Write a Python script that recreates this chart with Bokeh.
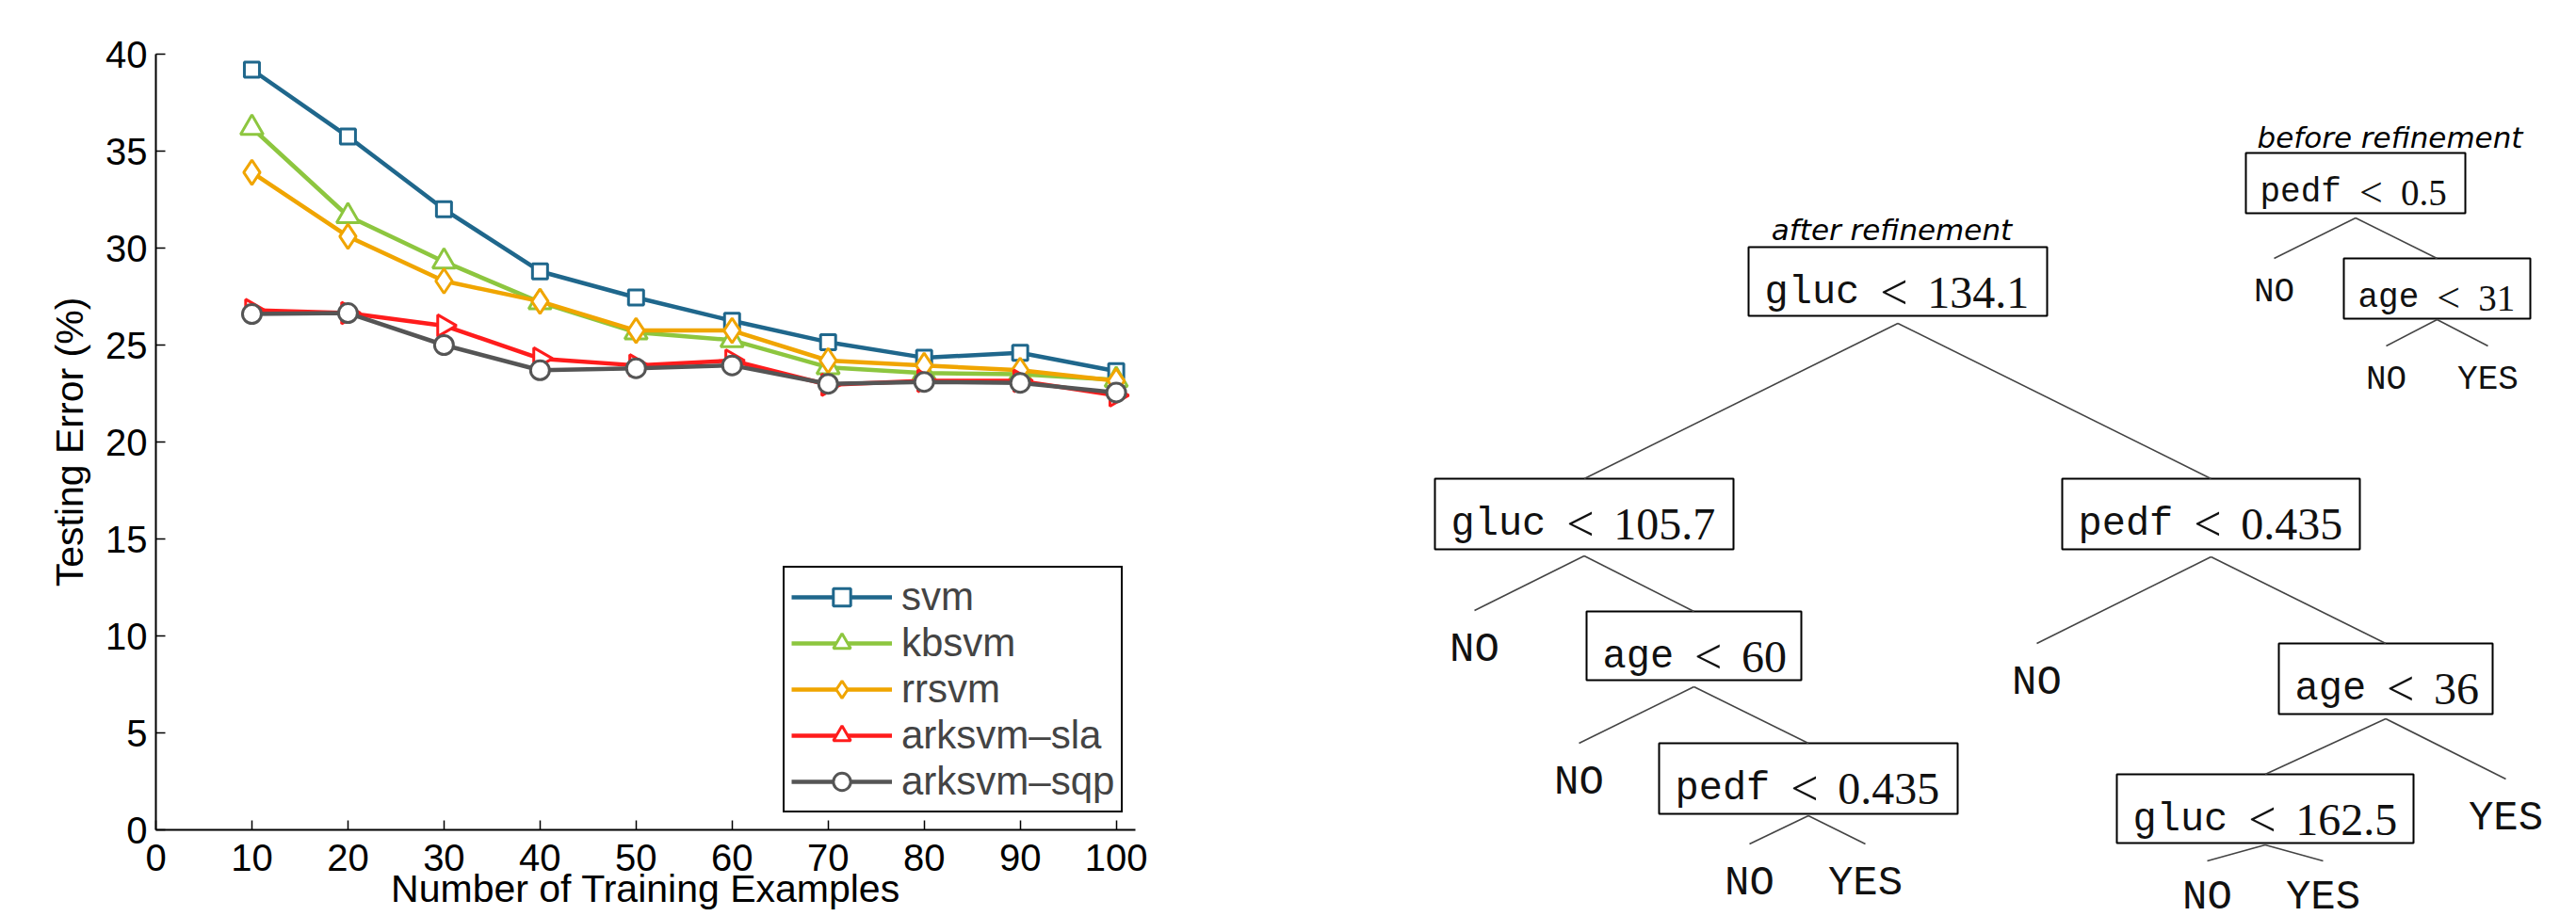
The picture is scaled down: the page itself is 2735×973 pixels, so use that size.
import numpy as np
from bokeh.plotting import figure
from bokeh.layouts import row
from bokeh.models import Range1d, FixedTicker
from bokeh.core.properties import value
from bokeh.embed import file_html
from bokeh.resources import INLINE

# ---------------- data (left chart) ----------------
n_train = [10, 20, 30, 40, 50, 60, 70, 80, 90, 100]
svm = [39.2, 35.75, 32.0, 28.8, 27.45, 26.25, 25.15, 24.35, 24.6, 23.65]
kbsvm = [36.2, 31.65, 29.3, 27.2, 25.65, 25.25, 23.85, 23.55, 23.5, 23.2]
rrsvm = [33.9, 30.6, 28.3, 27.25, 25.75, 25.75, 24.2, 23.95, 23.7, 23.15]
arksvm_sla = [26.8, 26.65, 26.0, 24.3, 23.95, 24.2, 22.95, 23.15, 23.15, 22.4]
arksvm_sqp = [26.6, 26.65, 25.0, 23.7, 23.8, 23.95, 23.0, 23.1, 23.05, 22.55]
series_names = ["svm", "kbsvm", "rrsvm", "arksvm\u2013sla", "arksvm\u2013sqp"]
x_ticks = list(range(0, 101, 10))
y_ticks = list(range(0, 41, 5))

# ---------------- data (decision trees) ----------------
after_vars = ["gluc", "gluc", "pedf", "age", "pedf", "age", "gluc"]
after_thresh = ["134.1", "105.7", "0.435", "60", "0.435", "36", "162.5"]
after_parent = [None, 0, 0, 1, 3, 2, 5]
after_leaves = ["NO", "NO", "NO", "YES", "NO", "YES", "NO", "YES"]
after_leaf_parent = [1, 3, 4, 4, 2, 5, 6, 6]

before_vars = ["pedf", "age"]
before_thresh = ["0.5", "31"]
before_parent = [None, 0]
before_leaves = ["NO", "NO", "YES"]
before_leaf_parent = [0, 1, 1]

# ---------------- left chart ----------------
styles = [
    ("#1f678c", "square", 16, 0.0),
    ("#8dc63f", "triangle", 24, 0.0),
    ("#f0a500", "diamond", 26, 0.0),
    ("#ff1c1c", "triangle", 23, -np.pi / 2),
    ("#555555", "circle", 20, 0.0),
]
values = [svm, kbsvm, rrsvm, arksvm_sla, arksvm_sqp]

# the frame fills the whole figure; axes are pinned at 0 so nothing gets clipped
W1, H1 = 1248, 973
PX_X = 1040 / 102          # pixels per x unit (axis 0..102)
PX_Y = 824 / 40            # pixels per y unit (axis 0..40)
X0_PX, Y0_PX = 165, 881    # where x=0 / y=0 sit in the figure (from left / from top)
x_lo = -X0_PX / PX_X
x_hi = (W1 - X0_PX) / PX_X
y_lo = -(H1 - Y0_PX) / PX_Y
y_hi = Y0_PX / PX_Y

p1 = figure(width=W1, height=H1, x_range=Range1d(x_lo, x_hi), y_range=Range1d(y_lo, y_hi),
            output_backend="svg", toolbar_location=None, min_border=0)
p1.outline_line_color = None
p1.grid.visible = False
p1.xaxis.ticker = FixedTicker(ticks=x_ticks)
p1.yaxis.ticker = FixedTicker(ticks=y_ticks)
p1.xaxis.fixed_location = 0
p1.yaxis.fixed_location = 0
p1.xaxis.bounds = (0, 102)
p1.yaxis.bounds = (0, 40)
for ax in (p1.xaxis, p1.yaxis):
    ax.major_tick_in = 10
    ax.major_tick_out = 0
    ax.minor_tick_line_color = None
    ax.axis_line_width = 2
    ax.axis_line_color = "black"
    ax.major_tick_line_width = 1.5
    ax.major_tick_line_color = "black"
    ax.major_label_text_font = "Liberation Sans"
    ax.major_label_text_font_size = "40px"
    ax.major_label_text_color = "black"
    ax.axis_label_text_font = "Liberation Sans"
    ax.axis_label_text_font_size = "41px"
    ax.axis_label_text_font_style = "normal"
    ax.axis_label_text_color = "black"
p1.yaxis.major_label_standoff = 9
p1.xaxis.major_label_standoff = 15
p1.yaxis.axis_label = "Testing Error (%)"
p1.yaxis.axis_label_standoff = 12
p1.xaxis.axis_label = "Number of Training Examples"
p1.xaxis.axis_label_standoff = -7

for name, ys, (color, marker, size, angle) in zip(series_names, values, styles):
    p1.line(n_train, ys, line_color=color, line_width=4.5, legend_label=name)
    p1.scatter(n_train, ys, marker=marker, size=size, angle=angle, fill_color="white",
               line_color=color, line_width=3, legend_label=name)

leg = p1.legend[0]
leg.location = (831, 110)
leg.margin = 0
leg.padding = 7
leg.spacing = 1
leg.glyph_width = 107
leg.glyph_height = 46
leg.label_height = 46
leg.label_standoff = 10
leg.label_text_font = "Liberation Sans"
leg.label_text_font_size = "42px"
leg.border_line_color = "black"
leg.border_line_alpha = 1.0
leg.border_line_width = 2
leg.background_fill_color = "white"
leg.background_fill_alpha = 1.0

# ---------------- right: trees ----------------
p2 = figure(width=1487, height=973, x_range=Range1d(1248, 2735), y_range=Range1d(973, 0),
            x_axis_type=None, y_axis_type=None, output_backend="svg",
            toolbar_location=None, min_border=0)
p2.outline_line_color = None
p2.grid.visible = False

# layout of the tree nodes (boxes: left, top, right, bottom) in picture pixels
after_box = [(1856, 262, 2173, 335), (1523, 508, 1840, 583), (2189, 508, 2505, 583),
             (1684, 649, 1912, 722), (1761, 789, 2078, 864), (2419, 683, 2646, 758),
             (2247, 822, 2562, 895)]
after_apex_dy = [8, 7, 8, 7, 2, 5, 2]
after_leaf_xy = [(1565, 648), (1676, 789), (1857, 896), (1980, 896), (2162, 683),
                 (2660, 827), (2343, 914), (2466, 914)]
after_leaf_dy = [41, 41, 41, 41, 41, 41, 38, 38]
before_box = [(2384, 162, 2617, 226), (2488, 274, 2686, 338)]
before_apex_dy = [5, 1]
before_leaf_xy = [(2414, 274), (2533, 367), (2641, 367)]
before_leaf_dy = [36, 36, 36]


def draw_tree(vars_, thresh, parent, leaves, leaf_parent, boxes, apex_dy, leaf_xy, leaf_dy,
              mono_px, serif_px, lt_px, leaf_px, pad, adv, gap1, lt_w, gap2, base_dy):
    L = [b[0] for b in boxes]
    T = [b[1] for b in boxes]
    R = [b[2] for b in boxes]
    B = [b[3] for b in boxes]
    p2.quad(left=L, right=R, top=T, bottom=B, fill_color=None, line_color="black", line_width=2)
    apex = [((b[0] + b[2]) / 2, b[3] + d) for b, d in zip(boxes, apex_dy)]
    x0, y0, x1, y1 = [], [], [], []
    for i, par in enumerate(parent):
        if par is None:
            continue
        x0.append(apex[par][0]); y0.append(apex[par][1])
        x1.append((boxes[i][0] + boxes[i][2]) / 2); y1.append(boxes[i][1])
    for j, par in enumerate(leaf_parent):
        x0.append(apex[par][0]); y0.append(apex[par][1])
        x1.append(leaf_xy[j][0]); y1.append(leaf_xy[j][1])
    p2.segment(x0, y0, x1, y1, line_color="#444444", line_width=1.6)
    vx = [b[0] + pad for b in boxes]
    ly = [b[1] + base_dy for b in boxes]
    ltx = [x + len(v) * adv + gap1 for x, v in zip(vx, vars_)]
    nx = [x + lt_w + gap2 for x in ltx]
    p2.text(vx, ly, text=vars_, text_font=value("Liberation Mono"), text_font_size=value(f"{mono_px}px"),
            text_align="left", text_baseline="alphabetic", text_color="#111111")
    p2.text(ltx, ly, text=["<"] * len(vars_), text_font=value("Liberation Serif"),
            text_font_size=value(f"{lt_px}px"), text_align="left", text_baseline="alphabetic",
            text_color="#111111")
    p2.text(nx, ly, text=thresh, text_font=value("Liberation Serif"), text_font_size=value(f"{serif_px}px"),
            text_align="left", text_baseline="alphabetic", text_color="#111111")
    p2.text([xy[0] for xy in leaf_xy], [xy[1] + d for xy, d in zip(leaf_xy, leaf_dy)], text=leaves,
            text_font=value("Liberation Mono"), text_font_size=value(f"{leaf_px}px"),
            text_align="center", text_baseline="alphabetic", text_color="#111111")


draw_tree(after_vars, after_thresh, after_parent, after_leaves, after_leaf_parent,
          after_box, after_apex_dy, after_leaf_xy, after_leaf_dy,
          mono_px=42, serif_px=48, lt_px=52, leaf_px=44, pad=17, adv=25.2, gap1=22, lt_w=30, gap2=20,
          base_dy=48)
draw_tree(before_vars, before_thresh, before_parent, before_leaves, before_leaf_parent,
          before_box, before_apex_dy, before_leaf_xy, before_leaf_dy,
          mono_px=36, serif_px=39, lt_px=44, leaf_px=36, pad=15, adv=21.6, gap1=19, lt_w=27, gap2=17,
          base_dy=42)

p2.text([2008, 2537], [243, 145], text=["after refinement", "before refinement"],
        text_font=value("DejaVu Sans"), text_font_style="italic", text_font_size=value("31px"),
        text_align="center", text_baseline="alphabetic", text_color="black")

layout = row(p1, p2)
open("out.html", "w").write(file_html(layout, INLINE))
